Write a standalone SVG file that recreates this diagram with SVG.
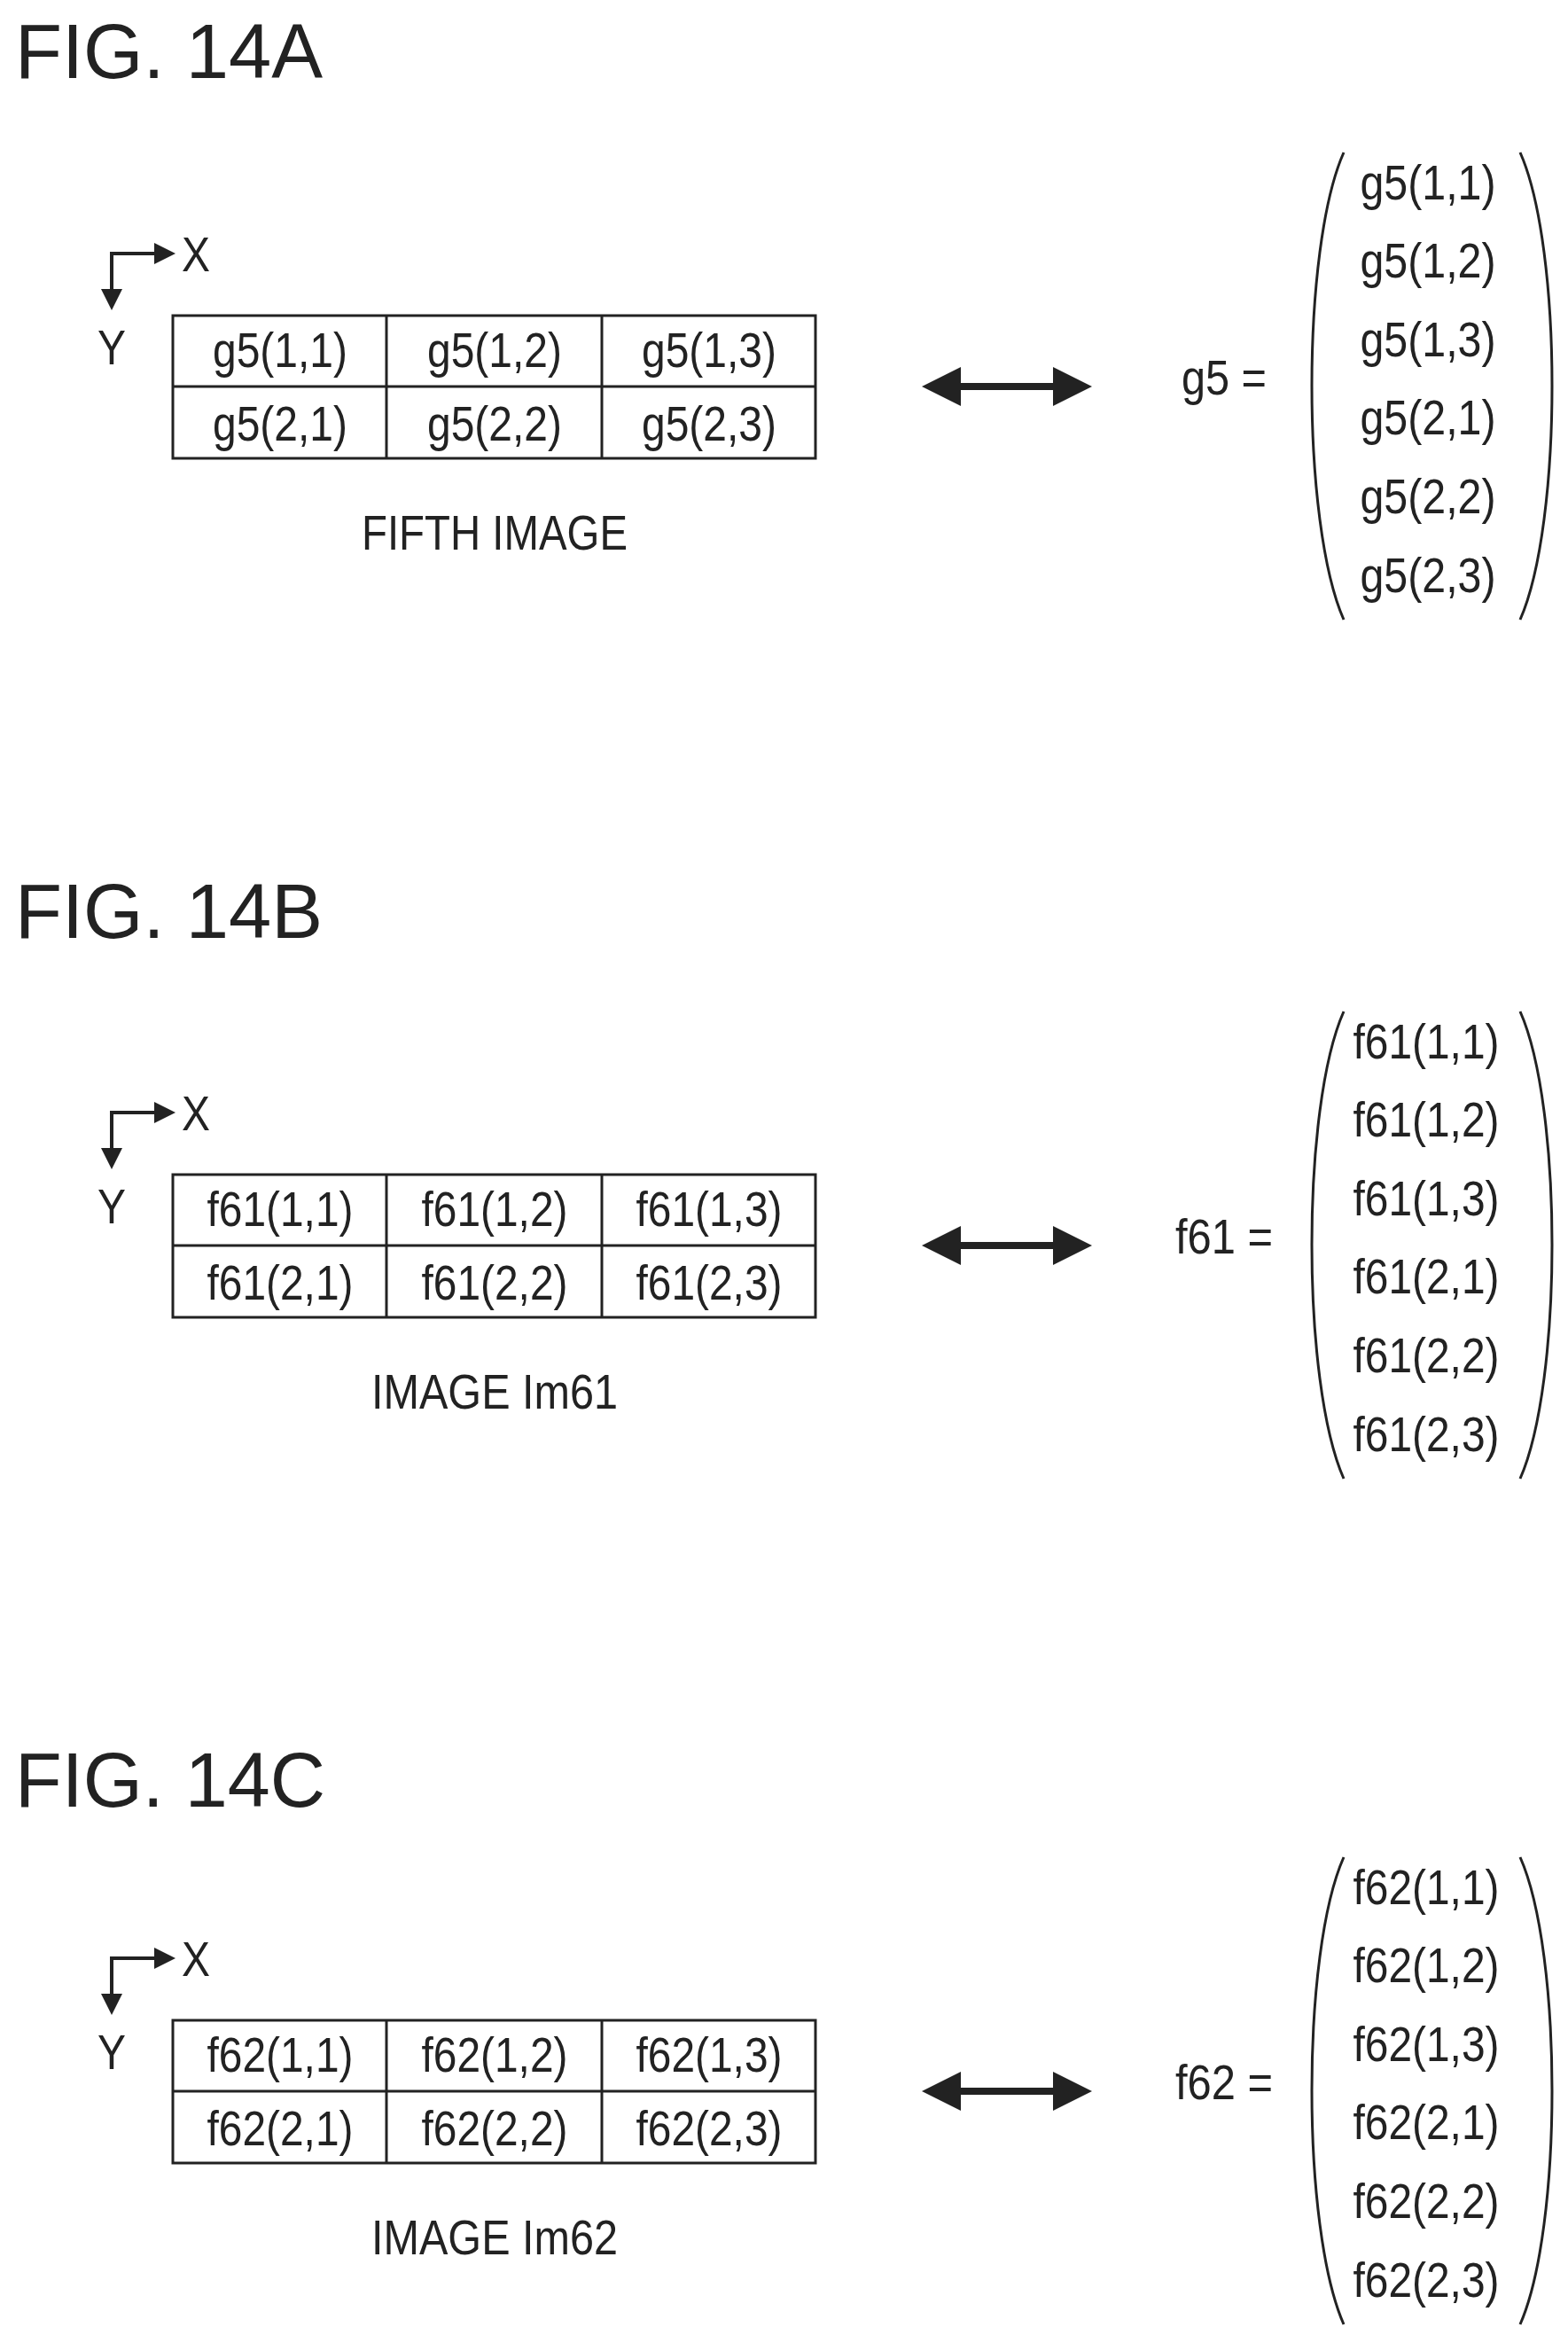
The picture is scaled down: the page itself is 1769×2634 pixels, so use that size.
<svg xmlns="http://www.w3.org/2000/svg" width="1769" height="2634" viewBox="0 0 1769 2634">
<style>
text{font-family:"Liberation Sans",Arial,sans-serif;fill:#222}
.t{font-size:88px}
.c{font-size:56px;text-anchor:middle}
.l{font-size:56px}
.g{fill:none;stroke:#222;stroke-width:3}
.a{fill:none;stroke:#222;stroke-width:4}
.p{fill:none;stroke:#222;stroke-width:3}
</style>
<defs>
<g id="axes"><path class="a" d="M126,335 V286 H180"/><path d="M174,274 L198,286 L174,298Z" fill="#222"/><path d="M114,326 L126,350 L138,326Z" fill="#222"/>
<text class="l" x="205" y="306" textLength="32" lengthAdjust="spacingAndGlyphs">X</text><text class="l" x="110" y="411" textLength="32" lengthAdjust="spacingAndGlyphs">Y</text></g>
<g id="dbl"><line x1="1070" y1="436" x2="1202" y2="436" stroke="#222" stroke-width="8"/><path d="M1040,436 L1084,414 L1084,458Z M1232,436 L1188,414 L1188,458Z" fill="#222"/></g>
<g id="parens"><path class="p" d="M1516,172 C1468,280 1468,590 1516,699"/><path class="p" d="M1715,172 C1763,280 1763,590 1715,699"/></g>
<g id="grid"><rect class="g" x="195" y="356" width="725" height="161"/><path class="g" d="M195,436 H920 M436,356 V517 M679,356 V517"/></g>
</defs>

<g id="panelA">
<text class="t" x="17" y="88" textLength="347" lengthAdjust="spacingAndGlyphs">FIG. 14A</text>
<g id="axesA"><use href="#axes"/></g>
<g id="tableA"><use href="#grid"/>
<text class="c" x="316" y="414" textLength="152" lengthAdjust="spacingAndGlyphs">g5(1,1)</text>
<text class="c" x="558" y="414" textLength="152" lengthAdjust="spacingAndGlyphs">g5(1,2)</text>
<text class="c" x="800" y="414" textLength="152" lengthAdjust="spacingAndGlyphs">g5(1,3)</text>
<text class="c" x="316" y="497" textLength="152" lengthAdjust="spacingAndGlyphs">g5(2,1)</text>
<text class="c" x="558" y="497" textLength="152" lengthAdjust="spacingAndGlyphs">g5(2,2)</text>
<text class="c" x="800" y="497" textLength="152" lengthAdjust="spacingAndGlyphs">g5(2,3)</text>
<text class="c" x="558" y="620" textLength="300" lengthAdjust="spacingAndGlyphs">FIFTH IMAGE</text></g>
<g id="arrowA"><use href="#dbl"/></g>
<g id="vectorA"><text class="l" x="1333" y="445" textLength="96" lengthAdjust="spacingAndGlyphs">g5 =</text>
<use href="#parens"/>
<text class="c" x="1611" y="225" textLength="153" lengthAdjust="spacingAndGlyphs">g5(1,1)</text>
<text class="c" x="1611" y="313" textLength="153" lengthAdjust="spacingAndGlyphs">g5(1,2)</text>
<text class="c" x="1611" y="402" textLength="153" lengthAdjust="spacingAndGlyphs">g5(1,3)</text>
<text class="c" x="1611" y="490" textLength="153" lengthAdjust="spacingAndGlyphs">g5(2,1)</text>
<text class="c" x="1611" y="579" textLength="153" lengthAdjust="spacingAndGlyphs">g5(2,2)</text>
<text class="c" x="1611" y="668" textLength="153" lengthAdjust="spacingAndGlyphs">g5(2,3)</text></g>
</g>

<g id="panelB">
<text class="t" x="17" y="1058" textLength="347" lengthAdjust="spacingAndGlyphs">FIG. 14B</text>
<g transform="translate(0,969)">
<g id="axesB"><use href="#axes"/></g>
<g id="tableB"><use href="#grid"/>
<text class="c" x="316" y="414" textLength="165" lengthAdjust="spacingAndGlyphs">f61(1,1)</text>
<text class="c" x="558" y="414" textLength="165" lengthAdjust="spacingAndGlyphs">f61(1,2)</text>
<text class="c" x="800" y="414" textLength="165" lengthAdjust="spacingAndGlyphs">f61(1,3)</text>
<text class="c" x="316" y="497" textLength="165" lengthAdjust="spacingAndGlyphs">f61(2,1)</text>
<text class="c" x="558" y="497" textLength="165" lengthAdjust="spacingAndGlyphs">f61(2,2)</text>
<text class="c" x="800" y="497" textLength="165" lengthAdjust="spacingAndGlyphs">f61(2,3)</text>
<text class="c" x="558" y="620" textLength="278" lengthAdjust="spacingAndGlyphs">IMAGE Im61</text></g>
<g id="arrowB"><use href="#dbl"/></g>
<g id="vectorB"><text class="l" x="1326" y="445" textLength="110" lengthAdjust="spacingAndGlyphs">f61 =</text>
<use href="#parens"/>
<text class="c" x="1609" y="225" textLength="165" lengthAdjust="spacingAndGlyphs">f61(1,1)</text>
<text class="c" x="1609" y="313" textLength="165" lengthAdjust="spacingAndGlyphs">f61(1,2)</text>
<text class="c" x="1609" y="402" textLength="165" lengthAdjust="spacingAndGlyphs">f61(1,3)</text>
<text class="c" x="1609" y="490" textLength="165" lengthAdjust="spacingAndGlyphs">f61(2,1)</text>
<text class="c" x="1609" y="579" textLength="165" lengthAdjust="spacingAndGlyphs">f61(2,2)</text>
<text class="c" x="1609" y="668" textLength="165" lengthAdjust="spacingAndGlyphs">f61(2,3)</text></g>
</g></g>

<g id="panelC">
<text class="t" x="17" y="2038" textLength="350" lengthAdjust="spacingAndGlyphs">FIG. 14C</text>
<g transform="translate(0,1923)">
<g id="axesC"><use href="#axes"/></g>
<g id="tableC"><use href="#grid"/>
<text class="c" x="316" y="414" textLength="165" lengthAdjust="spacingAndGlyphs">f62(1,1)</text>
<text class="c" x="558" y="414" textLength="165" lengthAdjust="spacingAndGlyphs">f62(1,2)</text>
<text class="c" x="800" y="414" textLength="165" lengthAdjust="spacingAndGlyphs">f62(1,3)</text>
<text class="c" x="316" y="497" textLength="165" lengthAdjust="spacingAndGlyphs">f62(2,1)</text>
<text class="c" x="558" y="497" textLength="165" lengthAdjust="spacingAndGlyphs">f62(2,2)</text>
<text class="c" x="800" y="497" textLength="165" lengthAdjust="spacingAndGlyphs">f62(2,3)</text>
<text class="c" x="558" y="620" textLength="278" lengthAdjust="spacingAndGlyphs">IMAGE Im62</text></g>
<g id="arrowC"><use href="#dbl"/></g>
<g id="vectorC"><text class="l" x="1326" y="445" textLength="110" lengthAdjust="spacingAndGlyphs">f62 =</text>
<use href="#parens"/>
<text class="c" x="1609" y="225" textLength="165" lengthAdjust="spacingAndGlyphs">f62(1,1)</text>
<text class="c" x="1609" y="313" textLength="165" lengthAdjust="spacingAndGlyphs">f62(1,2)</text>
<text class="c" x="1609" y="402" textLength="165" lengthAdjust="spacingAndGlyphs">f62(1,3)</text>
<text class="c" x="1609" y="490" textLength="165" lengthAdjust="spacingAndGlyphs">f62(2,1)</text>
<text class="c" x="1609" y="579" textLength="165" lengthAdjust="spacingAndGlyphs">f62(2,2)</text>
<text class="c" x="1609" y="668" textLength="165" lengthAdjust="spacingAndGlyphs">f62(2,3)</text></g>
</g></g>
</svg>
